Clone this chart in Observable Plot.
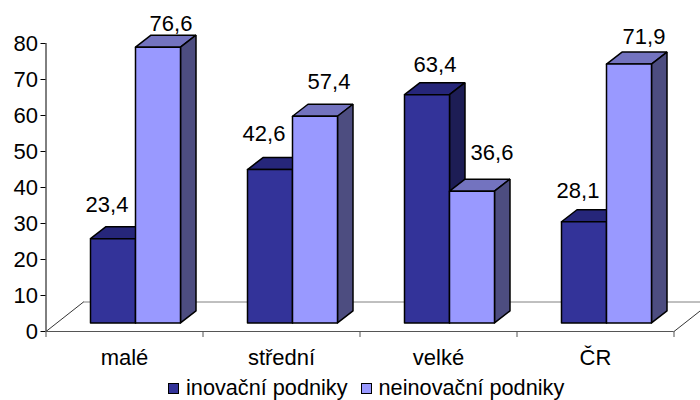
<!DOCTYPE html>
<html><head><meta charset="utf-8">
<script src="https://cdn.jsdelivr.net/npm/d3@7"></script>
<script src="https://cdn.jsdelivr.net/npm/@observablehq/plot@0.6"></script>
<style>
html,body{margin:0;padding:0;background:#fff;width:700px;height:400px;overflow:hidden;font-family:"Liberation Sans",Arial,sans-serif}
#legend{display:flex;align-items:center;height:32px;padding-left:168px;font-size:21.7px;color:#000;line-height:28px;white-space:nowrap}
#legend i{display:inline-block;box-sizing:border-box;width:11px;height:11px;border:1.5px solid #000;margin-right:7px}
#legend span{margin-right:13px}
</style></head><body>
<div id="chart"></div><div id="legend"></div>
<script>
const categories = ["malé", "střední", "velké", "ČR"];
const inovacni = [23.4, 42.6, 63.4, 28.1];
const neinovacni = [76.6, 57.4, 36.6, 71.9];
const yTicks = [0, 10, 20, 30, 40, 50, 60, 70, 80];
const seriesNames = ["inovační podniky", "neinovační podniky"];
// hand-placed label nudges from each bar's top, in pixels
const nudgeInov = [[-6, -34], [-6, -36], [8, -30], [-6, -31]];
const nudgeNeinov = [[13, -23], [14, -34], [20, -38], [15, -27]];

const W = 700, H = 372, mL = 45.5, mR = 26.5, mT = 43, mB = 41;
const pxX = (W - mL - mR) / 4, pxY = (H - mT - mB) / 80;
const ux = p => p / pxX, uy = p => p / pxY;
const barW = ux(45), left = ux(44.5), base = uy(8.6), depX = ux(15.5), depY = uy(12);
const floorX = ux(37.5), floorY = uy(29.5);
const pal = [
  {front: "#333399", top: "#26267a", side: "#1d1d55"},
  {front: "#9999ff", top: "#7373bf", side: "#4d4d80"}
];

const faces = [];
const addFace = (id, fill, pts) => [...pts, pts[0]].forEach(([x, y]) => faces.push({id, fill, x, y}));
categories.forEach((c, i) => {
  [inovacni[i], neinovacni[i]].forEach((v, s) => {
    const x0 = i + left + s * barW, x1 = x0 + barW, y1 = v + base, id = c + s;
    addFace(id + "t", pal[s].top, [[x0, y1], [x1, y1], [x1 + depX, y1 + depY], [x0 + depX, y1 + depY]]);
    addFace(id + "s", pal[s].side, [[x1, base], [x1 + depX, base + depY], [x1 + depX, y1 + depY], [x1, y1]]);
    addFace(id + "f", pal[s].front, [[x0, base], [x1, base], [x1, y1], [x0, y1]]);
  });
});

const labels = [];
categories.forEach((c, i) => {
  [[inovacni, nudgeInov], [neinovacni, nudgeNeinov]].forEach(([arr, n], s) => {
    labels.push({
      x: i + left + s * barW + barW / 2 + ux(n[i][0]),
      y: arr[i] + base - uy(n[i][1]),
      t: arr[i].toFixed(1).replace(".", ",")
    });
  });
});

const floorBack = [[0, 0], [floorX, floorY], [4 + floorX, floorY], [4, 0]].map(([x, y]) => ({x, y}));
const FS = 22;

const plot = Plot.plot({
  width: W, height: H, marginLeft: mL, marginRight: mR, marginTop: mT, marginBottom: mB,
  style: {background: "#fff", fontFamily: "'Liberation Sans',Arial,sans-serif", overflow: "hidden"},
  x: {domain: [0, 4]},
  y: {domain: [0, 80]},
  color: {type: "identity"},
  marks: [
    Plot.line(floorBack.slice(0, 2), {x: "x", y: "y", stroke: "#000", strokeWidth: 0.8}),
    Plot.line(floorBack.slice(1, 3), {x: "x", y: "y", stroke: "#808080", strokeWidth: 1}),
    Plot.line(floorBack.slice(2), {x: "x", y: "y", stroke: "#000", strokeWidth: 0.8}),
    Plot.line(faces, {x: "x", y: "y", z: "id", fill: "fill", stroke: "#000", strokeWidth: 1.5, strokeLinejoin: "miter"}),
    Plot.axisY({ticks: yTicks, tickSize: 5, tickPadding: 3, fontSize: FS, label: null, stroke: "#000", fill: "#000"}),
    Plot.ruleX([0], {y1: 0, y2: 80, stroke: "#000", strokeWidth: 1}),
    Plot.axisX({ticks: [0, 1, 2, 3, 4], tickSize: 6, tickFormat: () => "", label: null, stroke: "#555"}),
    Plot.ruleY([0], {x1: 0, x2: 4, stroke: "#555", strokeWidth: 1}),
    Plot.text(categories, {x: (d, i) => i + 0.5, y: 0, dy: 26, text: d => d, fontSize: FS, fill: "#000"}),
    Plot.text(labels, {x: "x", y: "y", text: "t", fontSize: FS, fill: "#000"})
  ]
});
document.getElementById("chart").appendChild(plot);
plot.style.display = "block";

const legend = document.getElementById("legend");
seriesNames.forEach((n, s) => {
  const sw = document.createElement("i"); sw.style.background = pal[s].front;
  const t = document.createElement("span"); t.textContent = n;
  legend.append(sw, t);
});
</script>
</body></html>
